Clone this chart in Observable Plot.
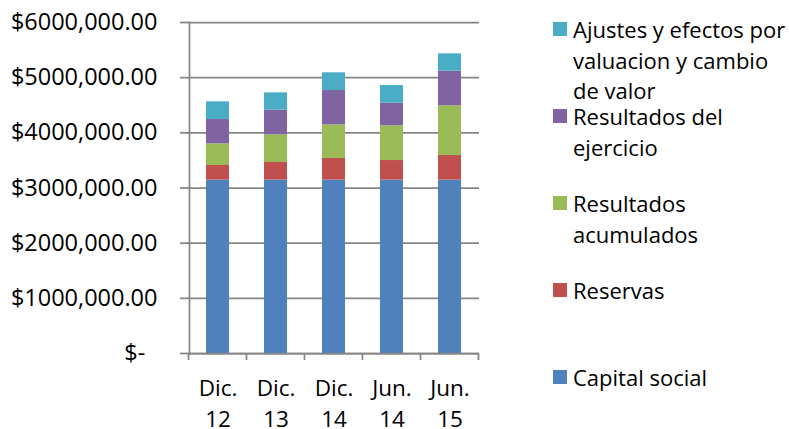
<!DOCTYPE html>
<html><head><meta charset="utf-8">
<script src="https://cdn.jsdelivr.net/npm/d3@7"></script>
<script src="https://cdn.jsdelivr.net/npm/@observablehq/plot@0.6"></script>
<style>
body{margin:0;background:#fff;}
#wrap{position:relative;width:789px;height:429px;font-family:"Open Sans",sans-serif;overflow:hidden;}
#legend{position:absolute;left:553px;top:14px;}
.item{height:87px;display:flex;align-items:flex-start;}
.sw{width:14px;height:14px;margin-top:8px;margin-right:6px;flex:none;}
.lbl{font-size:22px;line-height:30.5px;color:#000;white-space:nowrap;}
</style></head><body><div id="wrap"><div id="legend"></div></div>
<script>
const categories = ["Dic. 12", "Dic. 13", "Dic. 14", "Jun. 14", "Jun. 15"];
const seriesNames = ["Capital social", "Reservas", "Resultados acumulados", "Resultados del ejercicio", "Ajustes y efectos por valuacion y cambio de valor"];
const capitalSocial = [3143000, 3143000, 3143000, 3143000, 3143000];
const reservas = [265000, 319000, 392000, 355000, 446000];
const resultadosAcumulados = [393000, 502000, 610000, 629000, 901000];
const resultadosEjercicio = [440000, 448000, 622000, 411000, 629000];
const ajustes = [321000, 313000, 321000, 320000, 313000];
const colors = ["#4F81BD", "#C0504D", "#9BBB59", "#8064A2", "#4BACC6"];
const yTicks = [0, 1000000, 2000000, 3000000, 4000000, 5000000, 6000000];
const legendLabels = ["Ajustes y efectos por<br>valuacion y cambio<br>de valor", "Resultados del<br>ejercicio", "Resultados<br>acumulados", "Reservas", "Capital social"];

const seriesValues = [capitalSocial, reservas, resultadosAcumulados, resultadosEjercicio, ajustes];
const rows = [];
seriesNames.forEach((s, si) => categories.forEach((c, ci) => rows.push({cat: c, series: s, value: seriesValues[si][ci]})));

const gray = "#868686";
const chart = Plot.plot({
  width: 789, height: 429,
  marginLeft: 189, marginRight: 310, marginTop: 22, marginBottom: 76,
  style: {fontFamily: "'Open Sans', sans-serif", fontSize: "22px", color: "#000", background: "#fff", overflow: "visible"},
  x: {domain: categories, paddingInner: 0.6, paddingOuter: 0.3, label: null},
  y: {domain: [0, 6000000], label: null},
  color: {domain: seriesNames, range: colors},
  marks: [
    Plot.gridY(yTicks, {stroke: gray, strokeOpacity: 1, strokeWidth: 1.75}),
    Plot.barY(rows, {x: "cat", y: "value", fill: "series", order: seriesNames}),
    Plot.ruleY([0], {stroke: gray, strokeWidth: 1.75}),
    Plot.axisY(yTicks, {tickSize: 9, tickPadding: 23, stroke: gray, strokeWidth: 1.75, fontSize: 23.5, fill: "#000",
      tickFormat: d => d === 0 ? "$-\u00a0\u00a0" : "$" + (d / 1000000) + "000,000.00"}),
    Plot.axisX({tickSize: 0, tickPadding: 20, lineHeight: 1.39, fontSize: 22.5, fill: "#000",
      tickFormat: d => d.replace(" ", "\n")}),
    Plot.frame({anchor: "left", stroke: gray, strokeWidth: 1.75})
  ]
});

// category boundary ticks on the x axis, from the library's band scale
const xs = chart.scale("x");
const ys = chart.scale("y");
const y0 = ys.apply(0);
const half = xs.step / 2;
const edges = categories.map(c => xs.apply(c) + xs.bandwidth / 2 - half);
edges.push(xs.apply(categories[categories.length - 1]) + xs.bandwidth / 2 + half);
d3.select(chart).append("g").selectAll("line").data(edges).join("line")
  .attr("x1", d => d).attr("x2", d => d).attr("y1", y0).attr("y2", y0 + 7)
  .attr("stroke", gray).attr("stroke-width", 1.75);

document.getElementById("wrap").prepend(chart);

const legend = document.getElementById("legend");
legendLabels.forEach((t, i) => {
  const item = document.createElement("div");
  item.className = "item";
  item.innerHTML = `<div class="sw" style="background:${colors[colors.length - 1 - i]}"></div><div class="lbl">${t}</div>`;
  legend.appendChild(item);
});
</script></body></html>
